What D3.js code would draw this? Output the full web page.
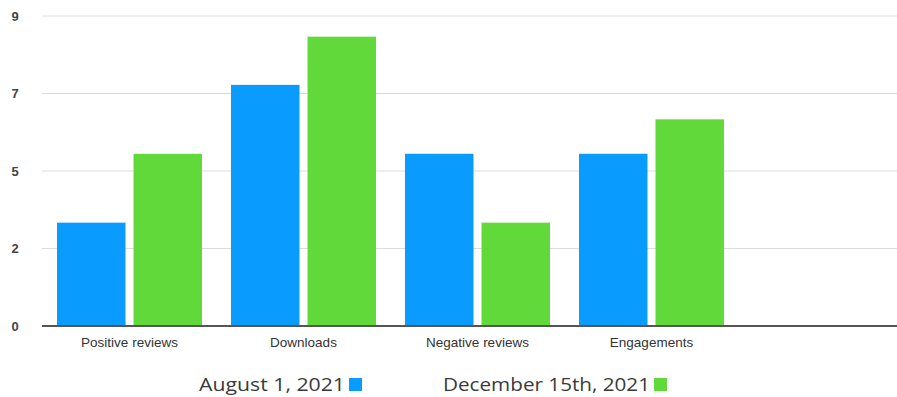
<!DOCTYPE html>
<html>
<head>
<meta charset="utf-8">
<script src="https://cdn.jsdelivr.net/npm/d3@7"></script>
<style>
  body { margin: 0; background: #fff; }
  svg { display: block; font-family: "Liberation Sans", Arial, sans-serif; }
</style>
</head>
<body>
<div id="chart"></div>
<script>
// data
var categories = ["Positive reviews", "Downloads", "Negative reviews", "Engagements"];
var seriesNames = ["August 1, 2021", "December 15th, 2021"];
var august = [3, 7, 5, 5];
var december = [5, 8.4, 3, 6];
var yTicks = [0, 2.25, 4.5, 6.75, 9];
var colors = ["#0a9bff", "#61d93b"];

var width = 897, height = 397;

var rows = categories.map(function(c, i) {
  return { cat: c, values: [august[i], december[i]] };
});

var svg = d3.select("#chart")
  .append("svg")
  .attr("width", width)
  .attr("height", height);

// scales
var x0 = d3.scaleBand()
  .domain(categories)
  .range([42, 42 + 174 * categories.length])
  .padding(0);

var x1 = d3.scaleBand()
  .domain(seriesNames)
  .range([15, 160])
  .paddingInner(0.105)
  .paddingOuter(0);

var y = d3.scaleLinear()
  .domain([0, 9])
  .range([326, 16]);

// gridlines
svg.append("g")
  .selectAll("line")
  .data(yTicks.slice(1))
  .enter()
  .append("line")
    .attr("x1", 42)
    .attr("x2", width)
    .attr("y1", function(d) { return y(d); })
    .attr("y2", function(d) { return y(d); })
    .attr("stroke", "#dcdcdc")
    .attr("stroke-width", 1);

// y labels
svg.append("g")
  .selectAll("text")
  .data(yTicks)
  .enter()
  .append("text")
    .attr("x", 15)
    .attr("y", function(d) { return y(d); })
    .attr("text-anchor", "middle")
    .attr("dy", "0.35em")
    .style("font-size", "13px")
    .style("font-weight", "bold")
    .attr("fill", "#444")
    .text(function(d) { return Math.round(d); });

// bars
var groups = svg.append("g")
  .selectAll("g")
  .data(rows)
  .enter()
  .append("g")
    .attr("transform", function(d) { return "translate(" + x0(d.cat) + ",0)"; });

groups.selectAll("rect")
  .data(function(d) { return d.values.map(function(v, i) { return { s: seriesNames[i], v: v, i: i }; }); })
  .enter()
  .append("rect")
    .attr("x", function(d) { return x1(d.s); })
    .attr("width", x1.bandwidth())
    .attr("y", function(d) { return y(d.v); })
    .attr("height", function(d) { return y(0) - y(d.v); })
    .attr("fill", function(d) { return colors[d.i]; });

// zero line
svg.append("line")
  .attr("x1", 42)
  .attr("x2", width)
  .attr("y1", y(0))
  .attr("y2", y(0))
  .attr("stroke", "#555")
  .attr("stroke-width", 2);

// category labels
svg.append("g")
  .selectAll("text")
  .data(categories)
  .enter()
  .append("text")
    .attr("x", function(d) { return x0(d) + (15 + 160) / 2; })
    .attr("y", 347)
    .attr("text-anchor", "middle")
    .style("font-size", "13.5px")
    .attr("fill", "#333")
    .text(function(d) { return d; });

// legend
var legendX = [199, 443];
var legendW = [146, 207];
var legend = svg.append("g")
  .selectAll("g")
  .data(seriesNames)
  .enter()
  .append("g")
    .attr("transform", function(d, i) { return "translate(" + legendX[i] + ",391)"; });

legend.append("text")
  .attr("x", 0)
  .attr("y", 0)
  .style("font-family", "'Open Sans', sans-serif")
  .style("font-size", "19px")
  .attr("fill", "#3a3a3a")
  .attr("textLength", function(d, i) { return legendW[i]; })
  .attr("lengthAdjust", "spacingAndGlyphs")
  .text(function(d) { return d; });

legend.append("rect")
  .attr("x", function(d, i) { return legendW[i] + 4; })
  .attr("y", -13)
  .attr("width", 13)
  .attr("height", 13)
  .attr("fill", function(d, i) { return colors[i]; });
</script>
</body>
</html>
